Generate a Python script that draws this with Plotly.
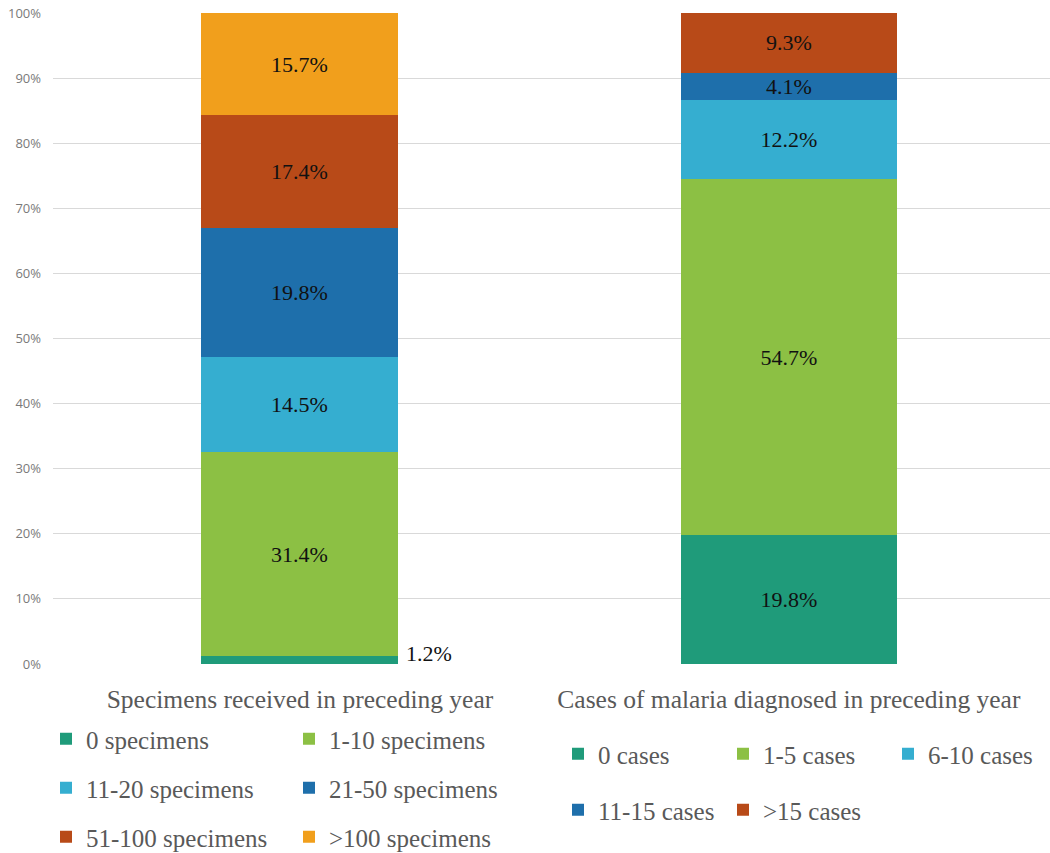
import plotly.graph_objects as go

# Survey results: share of laboratories by workload in the preceding year
categories = ["Specimens received in preceding year",
              "Cases of malaria diagnosed in preceding year"]

specimen_groups = ["0 specimens", "1-10 specimens", "11-20 specimens",
                   "21-50 specimens", "51-100 specimens", ">100 specimens"]
specimen_pct = [1.2, 31.4, 14.5, 19.8, 17.4, 15.7]

case_groups = ["0 cases", "1-5 cases", "6-10 cases", "11-15 cases", ">15 cases"]
case_pct = [19.8, 54.7, 12.2, 4.1, 9.3]

y_ticks = [0, 10, 20, 30, 40, 50, 60, 70, 80, 90, 100]
y_tick_labels = ["0%", "10%", "20%", "30%", "40%", "50%",
                 "60%", "70%", "80%", "90%", "100%"]

specimen_colors = ["#1f9b7a", "#8cc044", "#35aed0", "#1e6fab", "#b84a18", "#f19f1c"]
case_colors = ["#1f9b7a", "#8cc044", "#35aed0", "#1e6fab", "#b84a18"]

W, H = 1050, 853
SERIF = "Liberation Serif, Times New Roman, serif"
SANS = "Open Sans, sans-serif"
GRAY = "#595959"

# legend row assignment (one horizontal legend per row)
specimen_rows = ["legend", "legend", "legend2", "legend2", "legend3", "legend3"]
case_rows = ["legend4", "legend4", "legend4", "legend5", "legend5"]

fig = go.Figure()

for name, val, col, lg in zip(specimen_groups, specimen_pct, specimen_colors, specimen_rows):
    small = val < 3
    fig.add_trace(go.Bar(
        x=[categories[0]], y=[val], name=name, legend=lg,
        marker=dict(color=col, line=dict(width=0)),
        width=0.403,
        texttemplate="" if small else "%{y:.1f}%",
        textposition="none" if small else "inside",
        insidetextanchor="middle",
        textfont=dict(family=SERIF, size=22, color="#111111"),
    ))

for name, val, col, lg in zip(case_groups, case_pct, case_colors, case_rows):
    fig.add_trace(go.Bar(
        x=[categories[1]], y=[val], name=name, legend=lg,
        marker=dict(color=col, line=dict(width=0)),
        width=0.442,
        texttemplate="%{y:.1f}%",
        textposition="inside",
        insidetextanchor="middle",
        textfont=dict(family=SERIF, size=22, color="#111111"),
    ))

# label for the thin bottom segment, placed beside the bar
fig.add_annotation(
    x=categories[0], y=0, xref="x", yref="y",
    text=f"{specimen_pct[0]:.1f}%", showarrow=False,
    xanchor="left", yanchor="bottom", xshift=104, yshift=-4,
    font=dict(family=SERIF, size=22, color="#111111"),
)


def lg(x_px, y_px, ew):
    return dict(
        orientation="h", xref="container", yref="container",
        xanchor="left", yanchor="middle", bgcolor="rgba(0,0,0,0)",
        traceorder="normal",
        font=dict(family=SERIF, size=25, color=GRAY),
        itemwidth=30, entrywidthmode="pixels", entrywidth=ew,
        x=x_px / W, y=1 - y_px / H,
    )


fig.update_layout(
    width=W, height=H,
    margin=dict(l=53, r=0, t=13, b=189),
    paper_bgcolor="white", plot_bgcolor="white",
    font=dict(family=SERIF, color=GRAY),
    barmode="stack", bargap=0,
    uniformtext=dict(minsize=22, mode="show"),
    showlegend=True,
    legend=lg(46, 739, 198),
    legend2=lg(46, 788, 198),
    legend3=lg(46, 837, 198),
    legend4=lg(558, 754, 120),
    legend5=lg(558, 810, 120),
    xaxis=dict(
        type="category", range=[-0.505, 1.534],
        showgrid=False, showline=False, zeroline=False,
        ticks="outside", ticklen=12, tickcolor="rgba(0,0,0,0)",
        tickfont=dict(family=SERIF, size=25.5, color=GRAY),
    ),
    yaxis=dict(
        range=[0, 100], tickmode="array",
        tickvals=y_ticks, ticktext=y_tick_labels,
        showgrid=True, gridcolor="#d9d9d9", gridwidth=1,
        zeroline=False, showline=False,
        tickfont=dict(family=SANS, size=13, color="#7a7a7a"),
        ticklabelstandoff=11,
    ),
)

fig.write_html("out.html")
